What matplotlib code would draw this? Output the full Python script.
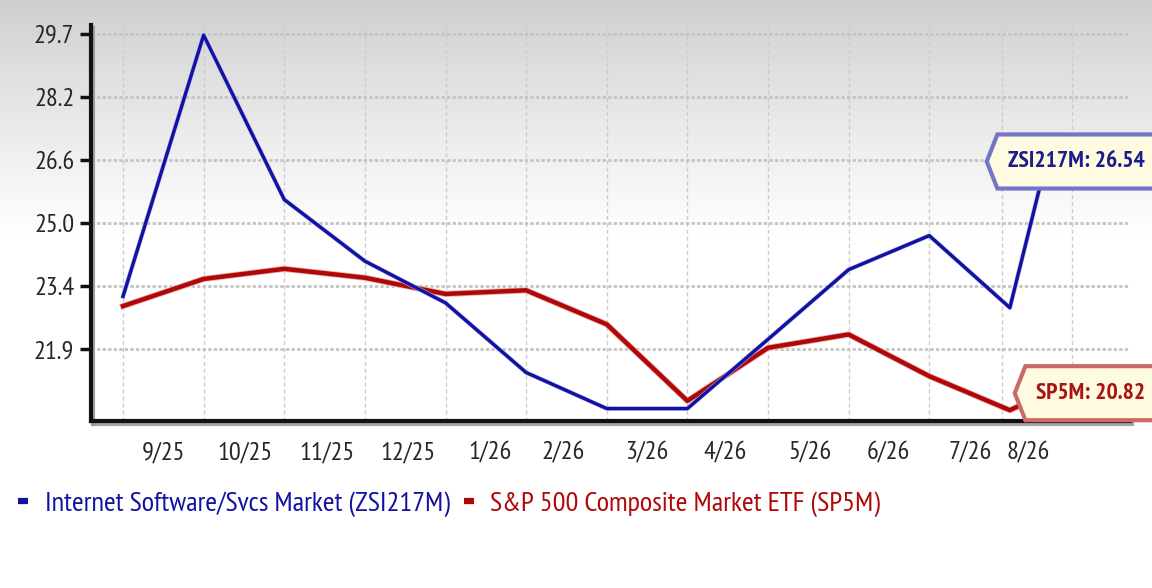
import numpy as np
import matplotlib
matplotlib.use("Agg")
import matplotlib.pyplot as plt
import matplotlib.patheffects as pe
from matplotlib.path import Path

# month index (0 = 9/25 start), last point is the partial current month
x_idx = [0, 1, 2, 3, 4, 5, 6, 7, 8, 9, 10, 11, 11.45]
zsi = [23.21, 29.66, 25.60, 24.08, 23.05, 21.33, 20.44, 20.44, 22.15, 23.87, 24.71, 22.93, 26.54]
sp5 = [22.97, 23.64, 23.89, 23.67, 23.27, 23.36, 22.52, 20.63, 21.94, 22.27, 21.24, 20.40, 20.82]

month_labels = ["9/25", "10/25", "11/25", "12/25", "1/26", "2/26",
                "3/26", "4/26", "5/26", "6/26", "7/26", "8/26"]
month_pos = [0.50, 1.51, 2.53, 3.54, 4.55, 5.46, 6.50, 7.47, 8.52, 9.49, 10.51, 11.23]
vgrid = [0, 1, 2, 3, 4, 5, 6, 7, 8, 9, 10, 10.9, 11.77]
ytick_labels = ["21.9", "23.4", "25.0", "26.6", "28.2", "29.7"]

FONT = ["PT Sans Narrow", "DejaVu Sans"]
BLUE = "#1212a2"
RED = "#b00808"


def tag_box(x0, y0, width, height, mutation_size):
    # label box with a pointed left edge, right side runs off the figure
    px, py = 0.45 * mutation_size, 0.7 * mutation_size
    x0, y0 = x0 - px, y0 - py
    x1, y1 = x0 + width + 2 * px + 2 * mutation_size, y0 + height + 2 * py
    ym = (y0 + y1) / 2
    t = 0.45 * mutation_size
    verts = [(x0, y0), (x1, y0), (x1, y1), (x0, y1), (x0 - t, ym), (x0, y0), (x0, y0)]
    codes = [Path.MOVETO] + [Path.LINETO] * 5 + [Path.CLOSEPOLY]
    return Path(verts, codes)


fig = plt.figure(figsize=(11.52, 5.88), dpi=100)

# grey-to-white background gradient
bg = fig.add_axes([0, 0, 1, 1], zorder=-10)
grad = np.linspace(0, 1, 300)
col = 0.81 + 0.19 * np.clip(grad / 0.40, 0, 1) ** 0.9
img = np.repeat(col[:, None, None], 3, axis=2).repeat(2, axis=1)
bg.imshow(img, aspect="auto", extent=[0, 1, 0, 1], origin="upper", interpolation="bilinear")
bg.axis("off")

ax = fig.add_axes([91 / 1152, 167 / 588, (1130 - 91) / 1152, (563 - 167) / 588])
ax.set_facecolor("none")

y_ticks = np.linspace(21.9, 29.7, 6)
ax.set_ylim(21.9 - 1.767, 29.91)
ax.set_xlim(-0.397, 12.49)

for v in vgrid:
    ax.axvline(v, color="#cccccc", lw=1, ls=(0, (3, 2)), zorder=1)
for v in y_ticks:
    ax.axhline(v, color="#c4c4c4", lw=2, ls=(0, (1.2, 0.8)), zorder=1)

ax.plot(x_idx, sp5, color=RED, lw=3.2, zorder=3,
        path_effects=[pe.Stroke(linewidth=4.4, foreground="#eab0b0"), pe.Normal()])
ax.plot(x_idx, zsi, color=BLUE, lw=2.4, zorder=4,
        path_effects=[pe.Stroke(linewidth=3.2, foreground="#b0b0e8"), pe.Normal()])

ax.set_yticks(y_ticks)
ax.set_yticklabels(ytick_labels, family=FONT, fontsize=19, color="#262626")
ax.set_xticks(month_pos)
ax.set_xticklabels(month_labels, family=FONT, fontsize=19, color="#262626")
ax.tick_params(axis="y", direction="out", length=8, width=2.5, pad=4, color="#111111")
ax.tick_params(axis="x", length=0, pad=15)

for s in ["top", "right"]:
    ax.spines[s].set_visible(False)
for s in ["left", "bottom"]:
    ax.spines[s].set_linewidth(3)
    ax.spines[s].set_color("#111111")
    ax.spines[s].set_path_effects([pe.SimpleLineShadow(offset=(1.5, -2), shadow_color="#999999", alpha=0.9),
                                   pe.Normal()])

# end-value labels
for vals, name, fg, edge, xpix in [(zsi, "ZSI217M", "#1c1c8c", "#7474c8", 1008),
                                   (sp5, "SP5M", "#a81414", "#cc6a6a", 1036)]:
    ax.annotate(f"{name}: {vals[-1]:.2f}", xy=(x_idx[-1], vals[-1]),
                xytext=(xpix, vals[-1]), textcoords=("figure pixels", "data"),
                va="center", ha="left", family=FONT, fontsize=17, fontweight="bold", color=fg,
                bbox=dict(boxstyle=tag_box, fc="#fffbe0", ec=edge, lw=3),
                annotation_clip=False, zorder=6)

# legend below
h1, = ax.plot([], [], color=BLUE, lw=4.5, solid_capstyle="butt")
h2, = ax.plot([], [], color=RED, lw=4.5, solid_capstyle="butt")
fig.legend([h1, h2], ["Internet Software/Svcs Market (ZSI217M)", "S&P 500 Composite Market ETF (SP5M)"],
           loc="center left", bbox_to_anchor=(-0.0065, 0.143), ncol=2, frameon=False,
           handlelength=0.35, handletextpad=0.58, columnspacing=0.5,
           prop={"family": FONT, "size": 20.5}, labelcolor="linecolor")

fig.savefig("out.png", dpi=100)
